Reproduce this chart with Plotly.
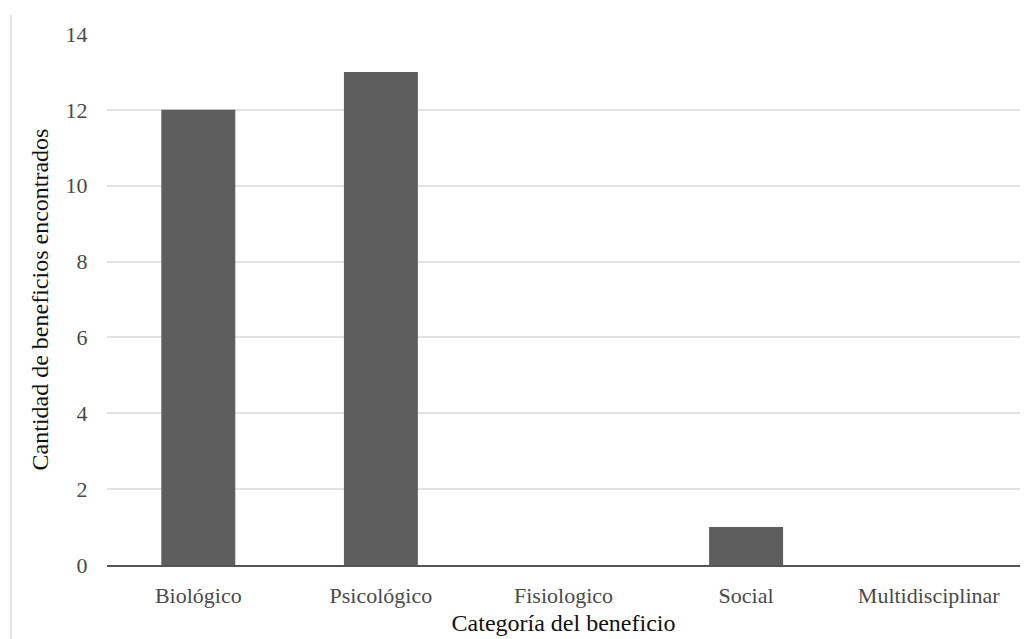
import plotly.graph_objects as go

categories = ["Biológico", "Psicológico", "Fisiologico", "Social", "Multidisciplinar"]
values = [12, 13, 0, 1, 0]
y_ticks = [0, 2, 4, 6, 8, 10, 12, 14]

font_family = "Liberation Serif, Times New Roman, serif"

fig = go.Figure(go.Bar(
    x=categories, y=values,
    marker=dict(color="#5e5e5e", line=dict(width=0)),
    width=0.405,
))

L, R, T, B = 107, 11, 34, 74
W, H = 1031, 639
pw, ph = W - L - R, H - T - B

fig.update_layout(
    width=W, height=H,
    margin=dict(l=L, r=R, t=T, b=B, autoexpand=False),
    plot_bgcolor="white", paper_bgcolor="white",
    font=dict(family=font_family, size=22, color="#4a4a4a"),
    showlegend=False,
    xaxis=dict(
        title=dict(text="Categoría del beneficio", font=dict(size=24, color="#111"), standoff=7),
        showline=True, linecolor="#555", linewidth=2,
        ticks="outside", ticklen=10, tickcolor="rgba(0,0,0,0)",
        tickfont=dict(size=22, color="#4a4a4a"),
        showgrid=False, automargin=False,
    ),
    yaxis=dict(
        title=dict(text="Cantidad de beneficios encontrados", font=dict(size=24, color="#111"), standoff=10),
        range=[0, 14], tickvals=y_ticks,
        showgrid=True, gridcolor="#e2e2e2", gridwidth=1.5,
        zeroline=False, showline=False,
        ticks="outside", ticklen=14, tickcolor="rgba(0,0,0,0)",
        tickfont=dict(size=22, color="#4a4a4a"),
        automargin=False,
    ),
    shapes=[dict(
        type="line", xref="paper", yref="paper",
        x0=(11 - L) / pw, x1=(11 - L) / pw,
        y0=1 + 19 / ph, y1=-(B + 5) / ph,
        line=dict(color="#dcdcdc", width=1.5),
    )],
)

fig.write_html("out.html", config={"displayModeBar": False},
               post_script="document.body.style.margin='0';")
